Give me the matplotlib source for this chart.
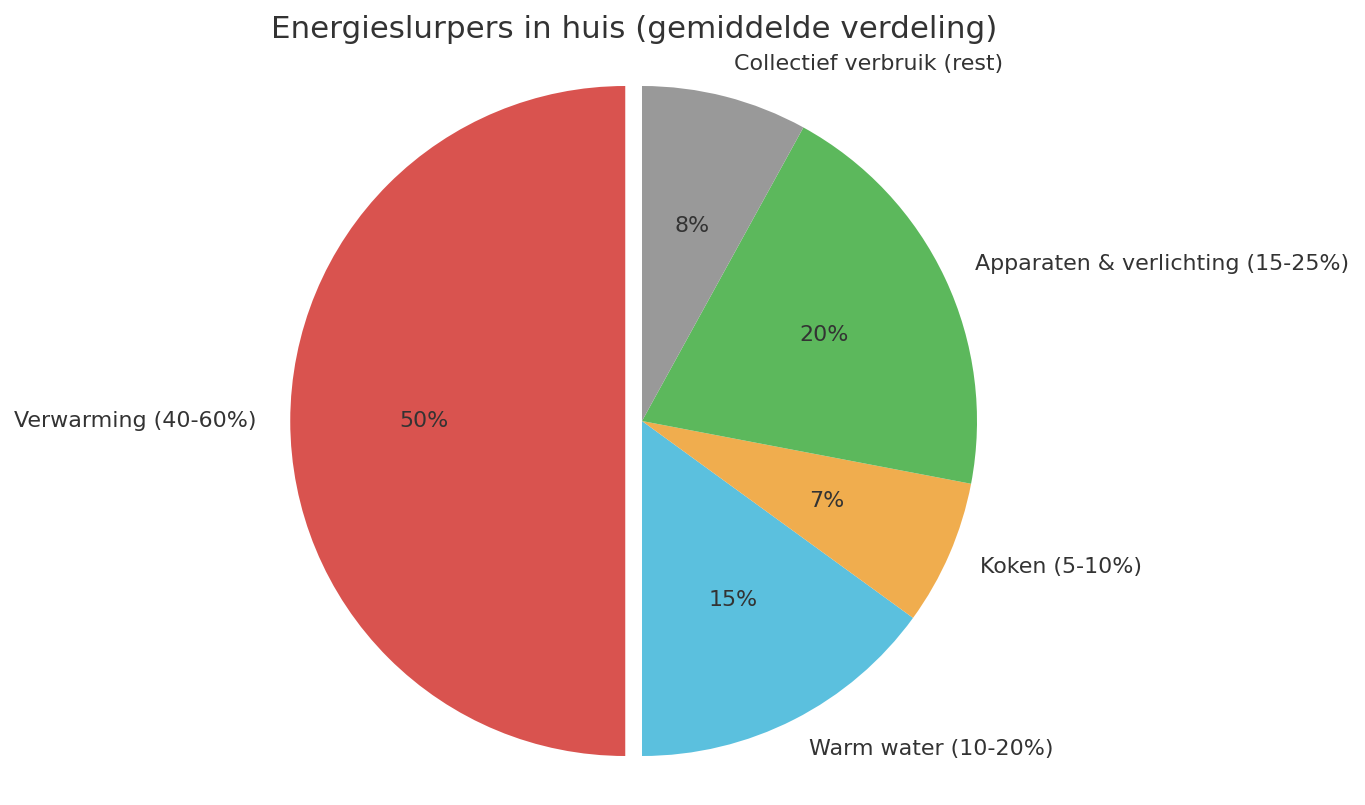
import matplotlib

matplotlib.use("Agg")
import matplotlib.pyplot as plt

# Data
labels = [
    "Verwarming (40-60%)",
    "Warm water (10-20%)",
    "Koken (5-10%)",
    "Apparaten & verlichting (15-25%)",
    "Collectief verbruik (rest)",
]
shares = [50, 15, 7, 20, 8]
colors = ["#d9534f", "#5bc0de", "#f0ad4e", "#5cb85c", "#999999"]
explode = [0.05, 0, 0, 0, 0]

TEXT = "#333333"

fig = plt.figure(figsize=(13.65, 8.05), dpi=100)
W, H = 1365, 805
R = 335  # pie radius in px
half = 1.25 * R
ax = fig.add_axes([(642 - half) / W, (H - 421 - half) / H, 2 * half / W, 2 * half / H])

wedges, texts, autotexts = ax.pie(
    shares,
    labels=labels,
    colors=colors,
    explode=explode,
    startangle=90,
    autopct="%1.0f%%",
    pctdistance=0.6,
    labeldistance=1.1,
    textprops={"fontsize": 15.9, "color": TEXT},
)
ax.set_aspect("equal")

fig.text(634 / W, 1 - 30 / H, "Energieslurpers in huis (gemiddelde verdeling)",
         ha="center", va="center", fontsize=22.3, color=TEXT)

fig.savefig("out.png", dpi=100)
